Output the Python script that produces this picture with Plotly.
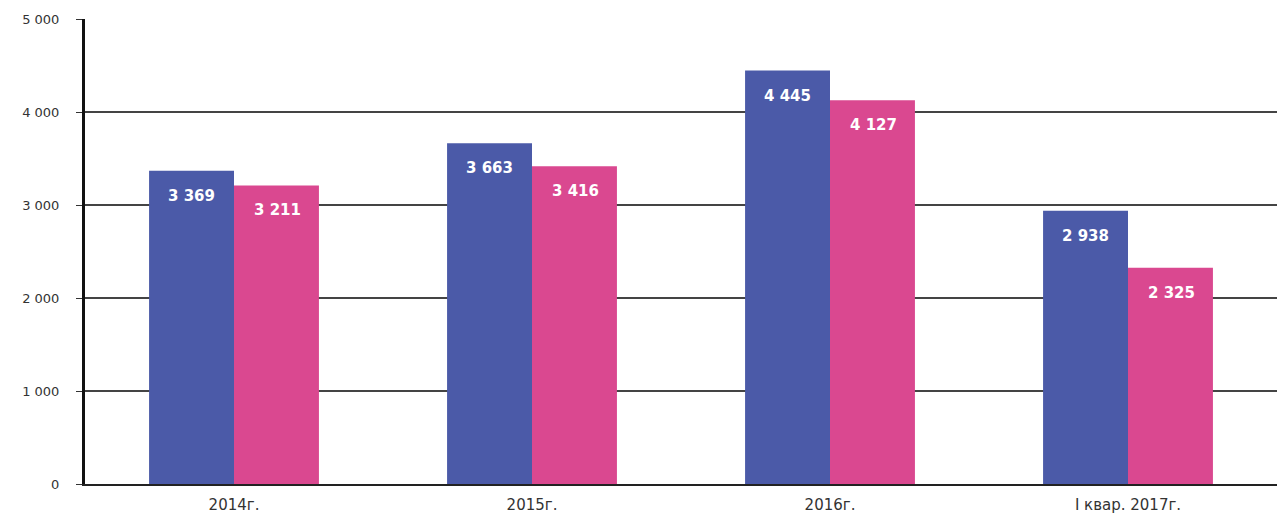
import plotly.graph_objects as go

categories = ["2014г.", "2015г.", "2016г.", "I квар. 2017г."]
series_a = [3369, 3663, 4445, 2938]
series_b = [3211, 3416, 4127, 2325]
y_ticks = [0, 1000, 2000, 3000, 4000, 5000]

BLUE = "#4B5AA8"
PINK = "#DA4890"
FONT = "DejaVu Sans"

fig = go.Figure()
fig.add_trace(go.Bar(x=categories, y=series_a, marker=dict(color=BLUE, line=dict(width=0)), name="A"))
fig.add_trace(go.Bar(x=categories, y=series_b, marker=dict(color=PINK, line=dict(width=0)), name="B"))

ann = []
for i, c in enumerate(categories):
    for vals, dx in ((series_a, -43), (series_b, 43)):
        ann.append(dict(x=c, y=vals[i], xshift=dx, yshift=-25,
                        text="<b>" + f"{vals[i]:,}".replace(",", " ") + "</b>",
                        showarrow=False, font=dict(color="white", size=15, family=FONT),
                        xanchor="center", yanchor="middle"))

fig.update_layout(
    width=1277, height=526,
    margin=dict(l=85, r=0, t=19, b=42),
    paper_bgcolor="white", plot_bgcolor="white",
    barmode="group", bargap=0.43, bargroupgap=0,
    showlegend=False,
    separators=", ",
    font=dict(family=FONT, color="#333"),
    annotations=ann,
    xaxis=dict(showline=True, linecolor="#222", linewidth=2, tickfont=dict(size=15, color="#333", family=FONT),
               ticks="", showgrid=False, ticklabelstandoff=6),
    yaxis=dict(range=[0, 5000], tickvals=y_ticks, tickformat=",d", showline=True, linecolor="#111", linewidth=3,
               showgrid=True, gridcolor="#444", gridwidth=2, zeroline=False,
               ticks="outside", ticklen=6, tickcolor="#333", tickfont=dict(size=13, color="#333", family=FONT),
               ticklabelstandoff=14),
)
fig.write_html("out.html", config={"displayModeBar": False},
               post_script="document.body.style.margin='0';document.body.style.overflow='hidden';")
